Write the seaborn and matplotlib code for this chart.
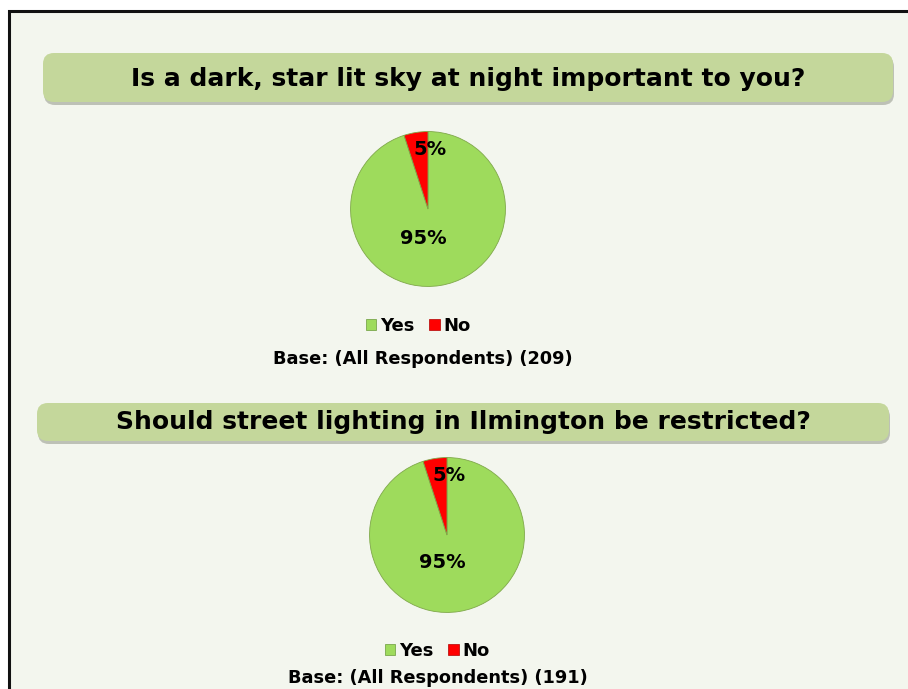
import matplotlib
matplotlib.use("Agg")
import matplotlib.pyplot as plt
from matplotlib.patches import FancyBboxPatch, Rectangle, Patch
import seaborn as sns

sns.set_style("white")
plt.rcParams['font.family'] = ['DejaVu Sans']

# ---- data ----
categories = ["Yes", "No"]
q1_title = "Is a dark, star lit sky at night important to you?"
q1_values = [95, 5]
q1_base = "Base: (All Respondents) (209)"
q2_title = "Should street lighting in Ilmington be restricted?"
q2_values = [95, 5]
q2_base = "Base: (All Respondents) (191)"
colors = ["#9EDB5C", "#FF0000"]

W, H = 908, 689
fig = plt.figure(figsize=(W / 100, H / 100), dpi=100)
fig.patch.set_facecolor("white")

def fx(x):
    return x / W

def fy(y):
    return 1 - y / H

BG = "#F3F6EE"
# background panel with frame
fig.patches.append(Rectangle((fx(9), fy(H + 5)), fx(W + 10 - 9), (H + 5 - 11) / H,
                             transform=fig.transFigure, facecolor=BG,
                             edgecolor="#111111", linewidth=2.2, zorder=-10))

def title_box(x0, y0, x1, y1, text, ty):
    fig.patches.append(FancyBboxPatch((fx(x0 + 1), fy(y1 + 3)), fx(x1 - x0), (y1 - y0) / H,
                                      boxstyle="round,pad=0,rounding_size=0.012",
                                      transform=fig.transFigure, facecolor="#9A9E92",
                                      edgecolor="none", alpha=0.6, zorder=-5,
                                      mutation_aspect=W / H))
    fig.patches.append(FancyBboxPatch((fx(x0), fy(y1)), fx(x1 - x0), (y1 - y0) / H,
                                      boxstyle="round,pad=0,rounding_size=0.012",
                                      transform=fig.transFigure, facecolor="#C4D79B",
                                      edgecolor="none", zorder=-4,
                                      mutation_aspect=W / H))
    fig.text(fx((x0 + x1) / 2), fy(ty), text, ha="center", va="center",
             fontsize=18, fontweight="bold", color="black", zorder=3)

def pie_block(cx, cy, r, values, lab_pos, leg_cx, leg_y, base_text, base_cx, base_y):
    ax = fig.add_axes([fx(cx - r), fy(cy + r), 2 * r / W, 2 * r / H])
    ax.set_zorder(2)
    ax.patch.set_alpha(0)
    wedges, texts, autotexts = ax.pie(values, colors=colors, startangle=90,
                                      counterclock=False, radius=1,
                                      autopct=lambda p: f"{p:.0f}%",
                                      wedgeprops=dict(edgecolor="#7FA84A", linewidth=0.6),
                                      textprops=dict(fontsize=14, fontweight="bold", color="black"))
    for t, pos in zip(autotexts, lab_pos):
        t.set_position(pos)
    ax.set_xlim(-1.02, 1.02)
    ax.set_ylim(-1.02, 1.02)
    ax.set_aspect("equal")
    ax.axis("off")
    handles = [Patch(facecolor=c, edgecolor="#6a9a3a" if i == 0 else "#b00000", linewidth=0.5)
               for i, c in enumerate(colors)]
    leg = fig.legend(handles, categories, loc="center", bbox_to_anchor=(fx(leg_cx), fy(leg_y)),
                     ncol=2, frameon=False, prop=dict(size=13, weight="bold"),
                     handlelength=0.6, handleheight=0.6, handletextpad=0.2, columnspacing=0.8)
    for t in leg.get_texts():
        t.set_color("black")
    fig.text(fx(base_cx), fy(base_y), base_text, ha="center", va="center",
             fontsize=12.8, fontweight="bold", color="black")

title_box(43, 53, 893, 102, q1_title, 79)
pie_block(428, 209, 79, q1_values, [(-0.06, -0.38), (0.03, 0.77)],
          418, 326, q1_base, 423, 359)

title_box(37, 403, 889, 441, q2_title, 422)
pie_block(447, 535, 79, q2_values, [(-0.06, -0.36), (0.03, 0.77)],
          437, 651, q2_base, 438, 678)

fig.savefig("out.png", dpi=100, facecolor=fig.get_facecolor())
